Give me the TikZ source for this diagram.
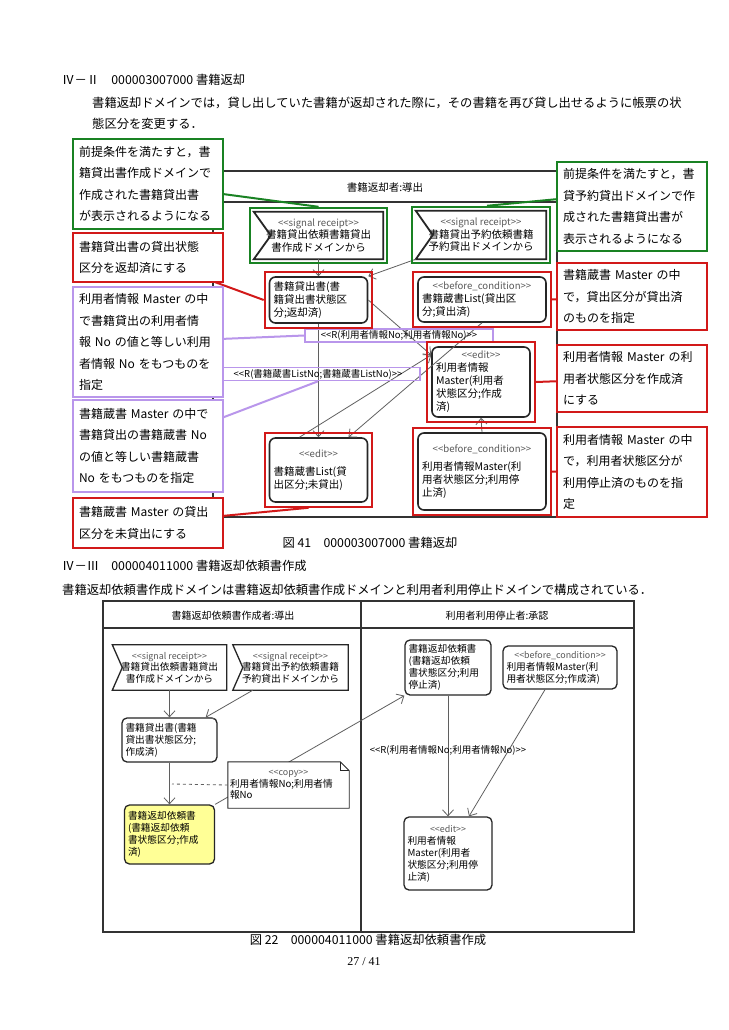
\documentclass[tikz,border=0pt]{standalone}
\usepackage{fontspec}
\setmainfont{Noto Sans CJK JP}
\newfontfamily\pagefont{Liberation Serif}
\usetikzlibrary{arrows.meta,fit}
\definecolor{annred}{RGB}{210,25,25}
\definecolor{anngreen}{RGB}{25,130,35}
\definecolor{annpurple}{RGB}{185,150,235}
\definecolor{notefill}{RGB}{255,255,150}
\definecolor{flowgray}{RGB}{95,95,95}
\newcommand\umlst[1]{{\fontsize{9.6}{11}\selectfont\color{black!65}<{}<#1>{}>}}
\newcommand\umlsb[1]{{\fontsize{8.9}{10.5}\selectfont\color{black!65}<{}<#1>{}>}}

\begin{document}
\begin{tikzpicture}[x=1pt,y=-1pt,
  txt/.style={font=\fontsize{12.3}{15}\selectfont, inner sep=0pt},
  ann/.style={draw=#1, line width=2.2pt, fill=white, minimum width=150pt, text width=138pt, inner xsep=6pt, align=left, font=\fontsize{12}{21.5}\selectfont},
  anl/.style={draw=#1, line width=2pt},
  hl/.style={draw=#1, line width=2pt, inner sep=4pt},
  tnode/.style={draw=black!85, line width=1.6pt, rounded corners=6pt, fill=white, align=left, inner sep=3pt, font=\fontsize{10.5}{13}\selectfont},
  tsig/.style={inner sep=3pt, align=center, font=\fontsize{10.5}{12.5}\selectfont},
  sigl/.style={draw=black!85, line width=1.8pt},
  lbl/.style={draw=annpurple, line width=1.6pt, inner sep=0pt, minimum height=13pt, font=\fontsize{9.5}{11}\selectfont},
  flow/.style={draw=flowgray, line width=0.8pt, -{Straight Barb[length=6pt,width=11pt]}},
  frm/.style={draw=black!80, line width=1.6pt},
  bnode/.style={draw=black!85, line width=1.3pt, rounded corners=5pt, fill=white, align=left, inner sep=3pt, font=\fontsize{9.7}{12}\selectfont},
  bsig/.style={inner sep=2pt, align=center, font=\fontsize{9.7}{11.5}\selectfont},
  bsigl/.style={draw=black!85, line width=1.3pt},
  hdr/.style={font=\fontsize{10}{12}\selectfont}
]
\fill[white] (0,0) rectangle (728,1030);
\useasboundingbox (0,0) rectangle (728,1030);

% page text
\node[txt, anchor=west] (h1) at (62,80) {Ⅳ－Ⅱ　000003007000 書籍返却};
\node[txt, anchor=west] (p1) at (92,103) {書籍返却ドメインでは，貸し出していた書籍が返却された際に，その書籍を再び貸し出せるように帳票の状};
\node[txt, anchor=west] (p2) at (92,124) {態区分を変更する．};

% frame 1
\draw[frm] (213,171) rectangle (557,517);
\draw[frm] (213,202) -- (557,202);
\node[hdr, font=\fontsize{10.5}{12}\selectfont] (hd1) at (385,187) {書籍返却者:導出};

% nodes 1
\node[tsig, minimum width=129pt, minimum height=47pt] (sig1) at (318.5,235.5) {\umlst{signal receipt}\\書籍貸出依頼書籍貸出\\書作成ドメインから};
\draw[sigl] (sig1.north west) -- (sig1.north east) -- (sig1.south east) -- (sig1.south west) -- ([xshift=17pt]sig1.west) -- cycle;
\node[tsig, minimum width=130pt, minimum height=48pt] (sig2) at (481,235) {\umlst{signal receipt}\\書籍貸出予約依頼書籍\\予約貸出ドメインから};
\draw[sigl] (sig2.north west) -- (sig2.north east) -- (sig2.south east) -- (sig2.south west) -- ([xshift=17pt]sig2.west) -- cycle;
\node[tnode, minimum width=98pt, minimum height=46pt, text width=90pt] (n1) at (318.5,300) {書籍貸出書(書\\籍貸出書状態区\\分;返却済)};
\node[tnode, minimum width=128pt, minimum height=45pt, text width=120pt] (bc1) at (482,299.5) {\hfill\umlst{before\_condition}\hfill\null\\書籍蔵書List(貸出区\\分;貸出済)};
\node[tnode, minimum width=98pt, minimum height=70pt, text width=90pt] (m1) at (481,382) {\hfill\umlst{edit}\hfill\null\\利用者情報\\Master(利用者\\状態区分;作成\\済)};
\node[tnode, minimum width=98pt, minimum height=64pt, text width=90pt] (n3) at (318.5,470) {\hfill\umlst{edit}\hfill\null\\[5pt]書籍蔵書List(貸\\出区分;未貸出)};
\node[tnode, minimum width=128pt, minimum height=77pt, text width=120pt] (bc2) at (482,471.5) {\hfill\umlst{before\_condition}\hfill\null\\[5pt]利用者情報Master(利\\用者状態区分;利用停\\止済)};

% flows 1
\draw[flow] (sig1.south) -- (n1.north);
\draw[flow] (sig2.south west) -- (n1.north east);
\draw[flow] (n1.south) -- (n3.north);
\draw[flow] (n1.east) -- ([yshift=27pt]m1.west);
\draw[flow] ([xshift=-19pt]n3.north) -- ([yshift=27pt]m1.west);
\draw[flow] (bc1.south) -- ([xshift=30pt]n3.north);
\draw[flow] (bc2.north) -- (m1.south);
\node[lbl, minimum width=188pt] (lbl1) at (399,335.5) {<{}<R(利用者情報No;利用者情報No)>{}>};
\node[lbl, minimum width=204pt] (lbl2) at (318,374) {<{}<R(書籍蔵書ListNo;書籍蔵書ListNo)>{}>};

% marks
\node[hl=anngreen, fit=(sig1)] (sig1hl) {};
\node[hl=anngreen, fit=(sig2)] (sig2hl) {};
\node[hl=annred, fit=(n1)] (n1hl) {};
\node[hl=annred, fit=(bc1)] (bc1hl) {};
\node[hl=annred, fit=(m1)] (m1hl) {};
\node[hl=annred, fit=(n3)] (n3hl) {};
\node[hl=annred, fit=(bc2)] (bc2hl) {};

% notes 1
\draw[anl=anngreen] (148,184) -- (sig1hl.north);
\draw[anl=annred] (148,257.5) -- (n1hl.west);
\draw[anl=annpurple] (148,342) -- (lbl1.west);
\draw[anl=annpurple] (148,446) -- (lbl2.south);
\draw[anl=annred] (148,523) -- ([xshift=-10pt]n3hl.south);
\draw[anl=anngreen] (632,192) -- ([xshift=6pt]sig2hl.north);
\draw[anl=annred] (bc1hl.east) -- (632,296.5);
\draw[anl=annred] (m1hl.east) -- (632,378.5);
\draw[anl=annred] (bc2hl.east) -- (632,472);
\node[ann=anngreen, minimum height=90pt] (ann1) at (148,184) {前提条件を満たすと，書\\籍貸出書作成ドメインで\\作成された書籍貸出書\\が表示されるようになる};
\node[ann=annred, minimum height=49pt] (ann2) at (148,257.5) {書籍貸出書の貸出状態\\区分を返却済にする};
\node[ann=annpurple, minimum height=110pt] (ann3) at (148,342) {利用者情報 Master の中\\で書籍貸出の利用者情\\報 No の値と等しい利用\\者情報 No をもつものを\\指定};
\node[ann=annpurple, minimum height=92pt] (ann4) at (148,446) {書籍蔵書 Master の中で\\書籍貸出の書籍蔵書 No\\の値と等しい書籍蔵書\\No をもつものを指定};
\node[ann=annred, minimum height=50pt] (ann5) at (148,523) {書籍蔵書 Master の貸出\\区分を未貸出にする};
\node[ann=anngreen, minimum height=89pt] (ann6) at (632,206.5) {前提条件を満たすと，書\\貸予約貸出ドメインで作\\成された書籍貸出書が\\表示されるようになる};
\node[ann=annred, minimum height=67pt] (ann7) at (632,296.5) {書籍蔵書 Master の中\\で，貸出区分が貸出済\\のものを指定};
\node[ann=annred, minimum height=67pt] (ann8) at (632,378.5) {利用者情報 Master の利\\用者状態区分を作成済\\にする};
\node[ann=annred, minimum height=90pt] (ann9) at (632,472) {利用者情報 Master の中\\で，利用者状態区分が\\利用停止済のものを指\\定};

% captions
\node[txt] (c1) at (370,543) {図 41　000003007000 書籍返却};
\node[txt, anchor=west] (h2) at (62,566) {Ⅳ－Ⅲ　000004011000 書籍返却依頼書作成};
\node[txt, anchor=west] (p3) at (62,590) {書籍返却依頼書作成ドメインは書籍返却依頼書作成ドメインと利用者利用停止ドメインで構成されている．};

% frame 2
\draw[frm] (103,601) rectangle (634,932);
\draw[frm] (103,628) -- (634,628);
\draw[frm] (361,601) -- (361,932);
\node[hdr] (hd2) at (233,616) {書籍返却依頼書作成者:導出};
\node[hdr] (hd3) at (497,616) {利用者利用停止者:承認};

% nodes 2
\node[bsig, minimum width=114pt, minimum height=45pt] (sigA) at (169.5,667.5) {\umlsb{signal receipt}\\書籍貸出依頼書籍貸出\\書作成ドメインから};
\draw[bsigl] (sigA.north west) -- (sigA.north east) -- (sigA.south east) -- (sigA.south west) -- ([xshift=10pt]sigA.west) -- cycle;
\node[bsig, minimum width=115pt, minimum height=45pt] (sigB) at (290.5,667.5) {\umlsb{signal receipt}\\書籍貸出予約依頼書籍\\予約貸出ドメインから};
\draw[bsigl] (sigB.north west) -- (sigB.north east) -- (sigB.south east) -- (sigB.south west) -- ([xshift=10pt]sigB.west) -- cycle;
\node[bnode, minimum width=95pt, minimum height=44pt, text width=88pt] (nA) at (169.5,740) {書籍貸出書(書籍\\貸出書状態区分;\\作成済)};
\node[bnode, fill=notefill, minimum width=90pt, minimum height=59pt, text width=83pt] (yl) at (169.5,834.5) {書籍返却依頼書\\(書籍返却依頼\\書状態区分;作成\\済)};
\node[bnode, minimum width=86pt, minimum height=55pt, text width=79pt] (rq) at (448,667.5) {書籍返却依頼書\\(書籍返却依頼\\書状態区分;利用\\停止済)};
\node[bnode, minimum width=114pt, minimum height=43pt, text width=107pt] (bc3) at (560,667.5) {\hfill\umlsb{before\_condition}\hfill\null\\利用者情報Master(利\\用者状態区分;作成済)};
\node[bnode, minimum width=88pt, minimum height=73pt, text width=81pt] (em) at (448,853.5) {\hfill\umlsb{edit}\hfill\null\\利用者情報\\Master(利用者\\状態区分;利用停\\止済)};

% flows 2
\draw[flow] (sigA.south) -- (nA.north);
\draw[flow] ([xshift=20pt]sigB.south west) -- ([xshift=-12pt]nA.north east);
\draw[flow] (nA.south) -- (yl.north);
\draw[flow] (yl.north east) -- (rq.south west);
\draw[flow] (rq.south) -- (em.north);
\draw[flow] ([xshift=-15pt]bc3.south) -- ([xshift=21pt]em.north);
\node[font=\fontsize{9.5}{11}\selectfont, inner sep=0pt] (lbl3) at (448,750) {<{}<R(利用者情報No;利用者情報No)>{}>};

% copy note
\node[fill=white, minimum width=121pt, minimum height=46pt, text width=117pt, inner sep=2pt, align=left, font=\fontsize{9.7}{11.5}\selectfont] (note) at (288.5,785) {\hfill\umlsb{copy}\hfill\null\\利用者情報No;利用者情\\報No};
\draw[bsigl, line width=0.9pt] (note.north west) -- ([xshift=-9pt]note.north east) -- ([yshift=-9pt]note.north east) -- (note.south east) -- (note.south west) -- cycle;
\draw[bsigl, line width=0.9pt] ([xshift=-9pt]note.north east) -- ([xshift=-9pt,yshift=-9pt]note.north east) -- ([yshift=-9pt]note.north east);
\coordinate (cp) at (172,784);
\draw[flowgray, line width=0.8pt, dashed] (note.west) -- (cp);

\node[txt] (c2) at (368,940) {図 22　000004011000 書籍返却依頼書作成};
\node[font=\pagefont\fontsize{12}{14}\selectfont] (pg) at (364,962) {27 / 41};
\end{tikzpicture}
\end{document}
